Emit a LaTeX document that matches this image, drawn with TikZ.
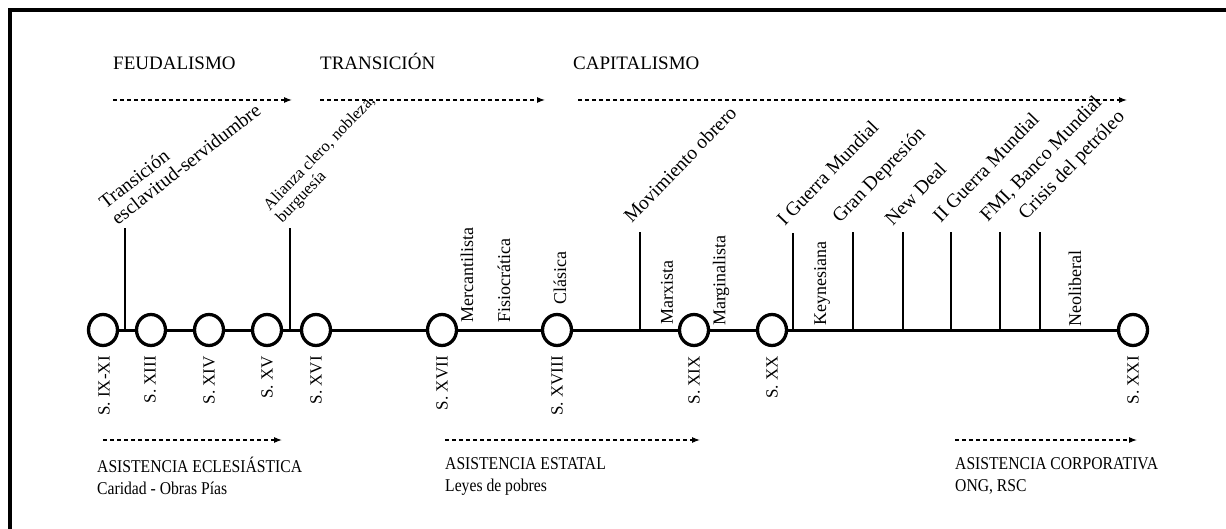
\documentclass[tikz,border=0pt]{standalone}
\usepackage{fontspec}
\setmainfont{Liberation Serif}
\newfontfamily\narrowserif[FakeStretch=0.87]{Liberation Serif}
\usepackage{tikz}
\usetikzlibrary{arrows.meta}
\usetikzlibrary{shapes.geometric}

\begin{document}
\begin{tikzpicture}[
        x=1pt, y=-1pt,
        font=\fontsize{17}{19}\selectfont,
        era/.style={
            anchor=base west,
            inner sep=0pt,
            font=\fontsize{19}{21}\selectfont
        },
        assist/.style={
            anchor=north west,
            align=left,
            inner sep=0pt,
            font=\narrowserif\fontsize{18}{22}\selectfont
        },
        century/.style={
            draw,
            ellipse,
            line width=3.3pt,
            minimum width=29pt,
            minimum height=31pt,
            inner sep=0pt
        },
        centurylabel/.style={rotate=90, anchor=east, inner sep=0pt},
        school/.style={rotate=90, anchor=west, inner sep=0pt, font=\fontsize{18}{20}\selectfont},
        event/.style={rotate=46, anchor=south west, align=left, inner sep=0pt, font=\fontsize{19.5}{20}\selectfont},
        axis/.style={line width=3pt},
        tick/.style={line width=2.8pt},
        arrow/.style={-{Latex[length=8pt,width=6pt]}, dash pattern=on 4pt off 3pt, line width=1.1pt}
    ]
        \useasboundingbox (0,0) rectangle (1226,529);
        \draw[line width=4pt] (10,529) -- (10,10) -- (1226,10);

        % periodos
        \node[era] (feudal) at (113,70) {FEUDALISMO};
        \node[era] (transic) at (320,70) {TRANSICIÓN};
        \node[era] (capital) at (573,70) {CAPITALISMO};

        \coordinate (feudalA) at (113,100);
        \coordinate (feudalB) at (292,100);
        \coordinate (transicA) at (320,100);
        \coordinate (transicB) at (545,100);
        \coordinate (capitalA) at (578,100);
        \coordinate (capitalB) at (1127,100);
        \draw[arrow] (feudalA) -- (feudalB);
        \draw[arrow] (transicA) -- (transicB);
        \draw[arrow] (capitalA) -- (capitalB);

        % siglos
        \node[century] (s9) at (103,330) {};
        \node[century] (s13) at (151,330) {};
        \node[century] (s14) at (209,330) {};
        \node[century] (s15) at (267,330) {};
        \node[century] (s16) at (316,330) {};
        \node[century] (s17) at (442,330) {};
        \node[century] (s18) at (557,330) {};
        \node[century] (s19) at (694,330) {};
        \node[century] (s20) at (772,330) {};
        \node[century] (s21) at (1133,330) {};

        \draw[axis] (s9) -- (s13);
        \draw[axis] (s13) -- (s14);
        \draw[axis] (s14) -- (s15);
        \draw[axis] (s15) -- (s16);
        \draw[axis] (s16) -- (s17);
        \draw[axis] (s17) -- (s18);
        \draw[axis] (s18) -- (s19);
        \draw[axis] (s19) -- (s20);
        \draw[axis] (s20) -- (s21);

        \node[centurylabel] (l9) at (104,356) {S. IX-XI};
        \node[centurylabel] (l13) at (150,356) {S. XIII};
        \node[centurylabel] (l14) at (209,356) {S. XIV};
        \node[centurylabel] (l15) at (267,356) {S. XV};
        \node[centurylabel] (l16) at (316,356) {S. XVI};
        \node[centurylabel] (l17) at (442,356) {S. XVII};
        \node[centurylabel] (l18) at (557,356) {S. XVIII};
        \node[centurylabel] (l19) at (694,356) {S. XIX};
        \node[centurylabel] (l20) at (772,356) {S. XX};
        \node[centurylabel] (l21) at (1133,356) {S. XXI};

        % escuelas
        \node[school] (mercant) at (467,323) {Mercantilista};
        \node[school] (fisio) at (504,323) {Fisiocrática};
        \node[school] (clasica) at (560,305) {Clásica};
        \node[school] (marx) at (667,325) {Marxista};
        \node[school] (margin) at (721,326) {Marginalista};
        \node[school] (keynes) at (822,326) {Keynesiana};
        \node[school] (neolib) at (1075,327) {Neoliberal};

        % hitos
        \coordinate (h1) at (125,330);   \coordinate (h1top) at (125,228);
        \coordinate (h2) at (290,330);   \coordinate (h2top) at (290,228);
        \coordinate (h3) at (640,330);   \coordinate (h3top) at (640,232);
        \coordinate (h4) at (793,330);   \coordinate (h4top) at (793,233);
        \coordinate (h5) at (853,330);   \coordinate (h5top) at (853,232);
        \coordinate (h6) at (903,330);   \coordinate (h6top) at (903,232);
        \coordinate (h7) at (951,330);   \coordinate (h7top) at (951,232);
        \coordinate (h8) at (1000,330);  \coordinate (h8top) at (1000,232);
        \coordinate (h9) at (1040,330);  \coordinate (h9top) at (1040,232);
        \draw[tick] (h1) -- (h1top);
        \draw[tick] (h2) -- (h2top);
        \draw[tick] (h3) -- (h3top);
        \draw[tick] (h4) -- (h4top);
        \draw[tick] (h5) -- (h5top);
        \draw[tick] (h6) -- (h6top);
        \draw[tick] (h7) -- (h7top);
        \draw[tick] (h8) -- (h8top);
        \draw[tick] (h9) -- (h9top);

        \node[event, rotate=-8] (esclav) at (118,226) {Transición\\esclavitud-servidumbre};
        \node[event, font=\fontsize{16.5}{17.5}\selectfont] (alianza) at (285,226) {Alianza clero, nobleza,\\burguesía};
        \node[event] (obrero) at (632,224) {Movimiento obrero};
        \node[event] (guerra1) at (785,227) {I Guerra Mundial};
        \node[event] (depres) at (843,227) {Gran Depresión};
        \node[event] (newdeal) at (893,227) {New Deal};
        \node[event] (guerra2) at (941,224) {II Guerra Mundial};
        \node[event] (fmi) at (990,225) {FMI, Banco Mundial};
        \node[event] (petroleo) at (1029,224) {Crisis del petróleo};

        % asistencia
        \coordinate (eclesA) at (103,440);
        \coordinate (eclesB) at (282,440);
        \coordinate (estatA) at (445,440);
        \coordinate (estatB) at (700,440);
        \coordinate (corpA) at (955,440);
        \coordinate (corpB) at (1137,440);
        \draw[arrow] (eclesA) -- (eclesB);
        \draw[arrow] (estatA) -- (estatB);
        \draw[arrow] (corpA) -- (corpB);

        \node[assist] (ecles) at (97,457) {ASISTENCIA ECLESIÁSTICA\\Caridad - Obras Pías};
        \node[assist] (estat) at (445,457) {ASISTENCIA ESTATAL\\Leyes de pobres};
        \node[assist] (corp) at (955,457) {ASISTENCIA CORPORATIVA\\ONG, RSC};
    \end{tikzpicture}
\end{document}
